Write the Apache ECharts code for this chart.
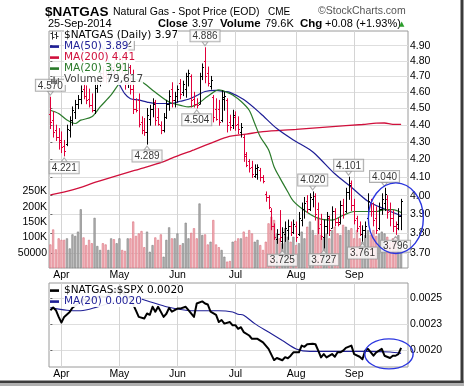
<!DOCTYPE html>
<html><head><meta charset="utf-8">
<script src="https://cdn.jsdelivr.net/npm/echarts@6/dist/echarts.min.js"></script>
<style>html,body{margin:0;padding:0;background:#fff}#c{width:464px;height:387px}</style>
</head><body><div id="c"></div>
<script>
// ---------------- DATA ----------------
const dates = [
'2014-03-26','2014-03-27','2014-03-28','2014-03-31',
'2014-04-01','2014-04-02','2014-04-03','2014-04-04','2014-04-07','2014-04-08','2014-04-09','2014-04-10','2014-04-11','2014-04-14','2014-04-15','2014-04-16','2014-04-17','2014-04-21','2014-04-22','2014-04-23','2014-04-24','2014-04-25','2014-04-28','2014-04-29','2014-04-30',
'2014-05-01','2014-05-02','2014-05-05','2014-05-06','2014-05-07','2014-05-08','2014-05-09','2014-05-12','2014-05-13','2014-05-14','2014-05-15','2014-05-16','2014-05-19','2014-05-20','2014-05-21','2014-05-22','2014-05-23','2014-05-27','2014-05-28','2014-05-29','2014-05-30',
'2014-06-02','2014-06-03','2014-06-04','2014-06-05','2014-06-06','2014-06-09','2014-06-10','2014-06-11','2014-06-12','2014-06-13','2014-06-16','2014-06-17','2014-06-18','2014-06-19','2014-06-20','2014-06-23','2014-06-24','2014-06-25','2014-06-26','2014-06-27','2014-06-30',
'2014-07-01','2014-07-02','2014-07-03','2014-07-07','2014-07-08','2014-07-09','2014-07-10','2014-07-11','2014-07-14','2014-07-15','2014-07-16','2014-07-17','2014-07-18','2014-07-21','2014-07-22','2014-07-23','2014-07-24','2014-07-25','2014-07-28','2014-07-29','2014-07-30','2014-07-31',
'2014-08-01','2014-08-04','2014-08-05','2014-08-06','2014-08-07','2014-08-08','2014-08-11','2014-08-12','2014-08-13','2014-08-14','2014-08-15','2014-08-18','2014-08-19','2014-08-20','2014-08-21','2014-08-22','2014-08-25','2014-08-26','2014-08-27','2014-08-28','2014-08-29',
'2014-09-02','2014-09-03','2014-09-04','2014-09-05','2014-09-08','2014-09-09','2014-09-10','2014-09-11','2014-09-12','2014-09-15','2014-09-16','2014-09-17','2014-09-18','2014-09-19','2014-09-22','2014-09-23','2014-09-24','2014-09-25'
];
const opens = [
4.47,4.43,4.37,4.33,4.31,4.28,4.29,4.37,4.43,4.48,
4.53,4.56,4.62,4.58,4.56,4.52,4.49,4.63,4.68,4.72,
4.70,4.69,4.73,4.76,4.74,4.77,4.80,4.74,4.66,4.76,
4.62,4.50,4.55,4.42,4.37,4.36,4.44,4.50,4.54,4.45,
4.40,4.37,4.45,4.53,4.62,4.55,4.58,4.66,4.60,4.62,
4.70,4.70,4.56,4.53,4.53,4.70,4.80,4.72,4.64,4.57,
4.50,4.50,4.43,4.56,4.55,4.42,4.40,4.45,4.41,4.36,
4.33,4.23,4.19,4.16,4.11,4.12,4.14,4.10,4.01,3.99,
3.92,3.84,3.77,3.80,3.76,3.80,3.82,3.84,3.81,3.84,
3.80,3.87,3.93,3.97,3.93,3.98,4.00,3.93,3.85,3.78,
3.84,3.88,3.83,3.92,3.86,3.86,3.95,3.92,4.02,4.07,
3.95,3.88,3.84,3.80,3.82,3.88,3.96,3.92,3.88,3.83,
3.93,3.96,3.98,3.92,3.88,3.84,3.85,3.89];
const highs = [
4.570,4.48,4.40,4.38,4.36,4.31,4.40,4.45,4.51,4.55,
4.58,4.64,4.66,4.64,4.62,4.59,4.66,4.70,4.74,4.76,
4.73,4.75,4.78,4.80,4.79,4.832,4.82,4.80,4.78,4.77,
4.74,4.56,4.59,4.45,4.44,4.50,4.52,4.56,4.55,4.50,
4.42,4.47,4.55,4.61,4.66,4.60,4.64,4.68,4.67,4.72,
4.74,4.71,4.60,4.56,4.72,4.78,4.886,4.76,4.70,4.58,
4.56,4.55,4.61,4.60,4.56,4.46,4.49,4.48,4.45,4.41,
4.34,4.24,4.20,4.19,4.17,4.17,4.15,4.11,4.02,4.00,
3.93,3.85,3.82,3.92,3.83,3.86,3.87,3.86,3.87,3.86,
3.91,3.96,3.99,4.00,4.01,4.020,4.01,3.96,3.90,3.87,
3.91,3.89,3.94,3.93,3.88,3.97,3.98,4.04,4.101,4.08,
3.98,3.89,3.86,3.84,3.86,4.01,3.98,3.96,3.94,3.96,
4.01,4.040,4.00,3.96,3.92,3.86,3.93,3.98];
const lows = [
4.38,4.33,4.31,4.26,4.24,4.221,4.28,4.33,4.40,4.44,
4.50,4.53,4.56,4.53,4.51,4.48,4.47,4.60,4.64,4.67,
4.66,4.66,4.69,4.71,4.70,4.73,4.72,4.62,4.63,4.59,
4.47,4.48,4.39,4.35,4.34,4.289,4.40,4.45,4.40,4.40,
4.35,4.36,4.44,4.49,4.51,4.51,4.54,4.56,4.58,4.57,
4.64,4.51,4.51,4.504,4.53,4.68,4.66,4.64,4.62,4.42,
4.43,4.40,4.42,4.49,4.36,4.37,4.38,4.37,4.35,4.33,
4.19,4.16,4.13,4.10,4.10,4.09,4.08,4.07,3.97,3.93,
3.82,3.77,3.75,3.76,3.725,3.76,3.77,3.79,3.80,3.76,
3.79,3.84,3.88,3.91,3.92,3.94,3.87,3.80,3.77,3.727,
3.80,3.79,3.83,3.84,3.84,3.85,3.88,3.91,3.98,3.92,
3.85,3.81,3.79,3.761,3.78,3.87,3.89,3.84,3.80,3.82,
3.90,3.92,3.88,3.84,3.81,3.796,3.82,3.82];
const closes = [
4.42,4.36,4.33,4.30,4.27,4.25,4.38,4.43,4.49,4.53,
4.56,4.61,4.58,4.55,4.52,4.49,4.63,4.68,4.72,4.70,
4.69,4.73,4.76,4.74,4.77,4.80,4.74,4.66,4.76,4.62,
4.50,4.49,4.41,4.37,4.36,4.46,4.50,4.53,4.43,4.41,
4.37,4.45,4.53,4.58,4.55,4.58,4.62,4.59,4.65,4.70,
4.72,4.55,4.53,4.52,4.70,4.76,4.70,4.66,4.68,4.45,
4.44,4.42,4.57,4.58,4.40,4.39,4.46,4.40,4.38,4.39,
4.22,4.17,4.15,4.12,4.15,4.16,4.10,4.08,3.99,3.94,
3.84,3.78,3.80,3.78,3.81,3.83,3.84,3.81,3.85,3.78,
3.88,3.93,3.96,3.93,3.99,4.00,3.90,3.83,3.79,3.84,
3.89,3.82,3.92,3.86,3.85,3.95,3.90,4.02,4.06,3.95,
3.87,3.83,3.80,3.82,3.84,3.97,3.92,3.87,3.82,3.93,
3.98,4.01,3.91,3.88,3.84,3.83,3.89,3.97];
const volumes = [
77000,126000,61000,97000,92000,92000,97000,64000,110000,105000,
119000,192000,100000,75000,92000,81000,164000,72000,59000,81000,
77000,59000,97000,94000,81000,97000,59000,56000,97000,97000,
152000,105000,113000,121000,68000,119000,53000,75000,100000,92000,
110000,37000,92000,133000,97000,97000,113000,75000,81000,148000,
97000,115000,130000,97000,211000,108000,110000,77000,86000,157000,
77000,68000,59000,37000,21000,23000,86000,89000,97000,97000,
119000,102000,124000,113000,86000,92000,75000,59000,86000,146000,
168000,157000,113000,97000,81000,130000,102000,86000,102000,75000,
81000,119000,97000,135000,152000,124000,108000,168000,108000,97000,
113000,97000,124000,135000,113000,108000,141000,135000,124000,130000,
97000,124000,97000,86000,108000,124000,108000,124000,105000,113000,
119000,113000,102000,86000,97000,102000,108000,79617];

// moving averages: [trading-day index, value]
const ma50Pts = [[0,5.40],[8,5.22],[14,5.05],[18,4.92],[21,4.80],[23,4.72],[25,4.65],[27,4.59],[29,4.56],[32,4.553],[35,4.54],[38,4.531],[44,4.531],[47,4.545],[50,4.557],[53,4.58],[56,4.605],[60,4.612],[63,4.605],[65,4.60],[70,4.555],[76,4.472],[82,4.38],[88,4.313],[94,4.256],[97,4.215],[103,4.12],[109,4.046],[115,3.97],[121,3.928],[127,3.893]];
const ma200Pts = [[0,4.004],[8,4.031],[17,4.076],[29,4.132],[32,4.145],[41,4.188],[44,4.208],[52,4.256],[56,4.281],[64,4.330],[71,4.347],[77,4.362],[89,4.375],[101,4.390],[113,4.404],[118,4.412],[121,4.413],[124,4.405],[127,4.405]];
const ma20Pts = [[0,4.49],[3,4.47],[6,4.431],[9,4.41],[11,4.43],[15,4.45],[18,4.51],[22,4.584],[25,4.656],[27,4.68],[29,4.687],[32,4.675],[34,4.656],[38,4.60],[43,4.54],[48,4.516],[50,4.51],[53,4.525],[57,4.575],[61,4.615],[64,4.60],[66,4.584],[69,4.545],[72,4.49],[74,4.41],[76,4.332],[79,4.256],[81,4.16],[83,4.10],[86,4.02],[88,3.97],[92,3.92],[96,3.885],[99,3.872],[102,3.87],[106,3.895],[110,3.915],[114,3.915],[118,3.915],[121,3.925],[124,3.925],[127,3.91]];
const ratioPts = [[0,0.002385],[1,0.00241],[2,0.002385],[3,0.00232],[4,0.002265],[5,0.00232],[7,0.002368],[8,0.002408],[10,0.00245],[12,0.00249],[14,0.00247],[16,0.0025],[18,0.00252],[20,0.00251],[22,0.00255],[24,0.00258],[26,0.00256],[28,0.00251],[29,0.0025],[31,0.00238],[32,0.00232],[34,0.002304],[35,0.002353],[36,0.00234],[37,0.002418],[38,0.00237],[39,0.002418],[41,0.00232],[42,0.00235],[43,0.002408],[44,0.00237],[46,0.0024],[47,0.0024],[49,0.002418],[50,0.002385],[52,0.00232],[53,0.00245],[55,0.00247],[56,0.00245],[57,0.00244],[58,0.00237],[60,0.00234],[61,0.00227],[62,0.00229],[63,0.002255],[65,0.00227],[66,0.002238],[67,0.00224],[68,0.002205],[69,0.00222],[70,0.002173],[72,0.00214],[73,0.002108],[75,0.002108],[77,0.002074],[79,0.00201],[81,0.001902],[82,0.001922],[84,0.0019],[85,0.00193],[86,0.00192],[87,0.001944],[88,0.001977],[90,0.001977],[91,0.002042],[92,0.00203],[93,0.002055],[95,0.00206],[96,0.002055],[97,0.001993],[98,0.001928],[99,0.00196],[100,0.001928],[102,0.00196],[103,0.001934],[104,0.001977],[105,0.001977],[106,0.001993],[107,0.00202],[109,0.002042],[110,0.00196],[112,0.001934],[113,0.00191],[114,0.001993],[115,0.00201],[117,0.001944],[118,0.001977],[119,0.001993],[120,0.00201],[121,0.001944],[123,0.001922],[124,0.001944],[125,0.001944],[126,0.00196],[127,0.00202]];
const ratioMaPts = [[0,0.00241],[6,0.002385],[11,0.00238],[17,0.002417],[22,0.00246],[26,0.0025],[29,0.002516],[36,0.002467],[42,0.002418],[49,0.002385],[54,0.00238],[61,0.00238],[66,0.002368],[68,0.002346],[70,0.002336],[74,0.002255],[79,0.002173],[84,0.002091],[89,0.00201],[94,0.001986],[101,0.001986],[108,0.001986],[115,0.001986],[123,0.00198],[127,0.001967]];

const peakIdx = [0,25,56,95,108,121];
const troughIdx = [5,35,53,84,99,113,125];

const priceTicks = [3.7,3.8,3.9,4.0,4.1,4.2,4.3,4.4,4.5,4.6,4.7,4.8,4.9];
const volumeTicks = [50000,100000,150000,200000,250000];
const volumeTickLabels = ['50000','100K','150K','200K','250K'];
const ratioTicks = [0.0020,0.00225,0.0025];
const ratioTickLabels = ['0.0020','0.0023','0.0025'];
const monthNames = ['Jan','Feb','Mar','Apr','May','Jun','Jul','Aug','Sep','Oct','Nov','Dec'];

// ---------------- BUILD ----------------
const ln = Math.log;
const UP = '#000000', DOWN = '#e0003a';
const up = closes.map((c,i)=> i===0 ? c>=opens[0] : c>=closes[i-1]);
const monthTickIdx = [], monthTickLabels = [];
dates.forEach((d,i)=>{ if(i>0 && d.slice(5,7)!==dates[i-1].slice(5,7)){ monthTickIdx.push(i); monthTickLabels.push(monthNames[+d.slice(5,7)-1]); } });

const AX = {fontFamily:'Liberation Sans', fontSize:10.5, color:'#000'};
const LEG = {fontFamily:'DejaVu Sans', fontSize:10.5, lineHeight:11, backgroundColor:'rgba(255,255,255,0.92)'};
function svgIcon(inner){
  return 'image://data:image/svg+xml;charset=utf-8,' + encodeURIComponent("<svg xmlns='http://www.w3.org/2000/svg' width='12' height='9' viewBox='0 0 12 9'>"+inner+"</svg>");
}
const icOHLC = svgIcon("<path d='M5.5 0.5V8.5M3.5 2.5H5.5M5.5 6.5H7.5M9.5 1V8M7.5 3.5H9.5M9.5 5.5H11.5' stroke='#333' stroke-width='1' fill='none'/>");
const icLine = c => svgIcon("<rect x='3' y='3.3' width='9' height='2.6' fill='"+c+"'/>");
const icVol = svgIcon("<rect x='4' y='4' width='1.6' height='5' fill='#666'/><rect x='6.3' y='1.5' width='1.6' height='7.5' fill='#666'/><rect x='8.6' y='5' width='1.6' height='4' fill='#666'/><rect x='10.9' y='3' width='1.1' height='6' fill='#666'/>");

const xAxisBase = (gi) => ({
  type:'value', gridIndex:gi, min:-0.5, max:dates.length+1.5,
  axisLine:{show:false},
  axisTick:{show:false, customValues:monthTickIdx},
  axisLabel:Object.assign({customValues:monthTickIdx, margin:2,
    formatter:v=>monthTickLabels[monthTickIdx.indexOf(Math.round(v))]||''}, AX),
  splitLine:{show:true, lineStyle:{color:'#d4d4d4', width:1}}
});

const labelBox = {fontFamily:'Liberation Sans', fontSize:10, color:'#000', backgroundColor:'#fff',
  borderColor:'#9a9a9a', borderWidth:1, padding:[1,2,0,2], lineHeight:10};

const MA50C='#1f1f96', MA200C='#d0103c', MA20C='#2a7a2a', RMAC='#1f1f96';

const option = {
  animation:false,
  backgroundColor:'#fff',
  grid:[
    {left:49, top:31, width:359, height:237, show:true, borderColor:'#9a9a9a', borderWidth:1, backgroundColor:'#fff', outerBoundsMode:'none'},
    {left:49, top:283, width:359, height:84, show:true, borderColor:'#9a9a9a', borderWidth:1, backgroundColor:'#fff', outerBoundsMode:'none'}
  ],
  xAxis:[xAxisBase(0), xAxisBase(1)],
  yAxis:[
    {type:'value', gridIndex:0, position:'right', min:ln(3.627), max:ln(4.998),
     axisLine:{show:false},
     axisTick:{show:true, length:2, inside:false, customValues:priceTicks.map(ln), lineStyle:{color:'#666'}},
     axisLabel:Object.assign({customValues:priceTicks.map(ln), margin:2, formatter:v=>Math.exp(v).toFixed(2)}, AX),
     splitLine:{show:true, lineStyle:{color:'#dedede'}}},
    {type:'value', gridIndex:0, position:'left', min:0, max:775000,
     axisLine:{show:false},
     axisTick:{show:false, customValues:volumeTicks},
     axisLabel:Object.assign({customValues:volumeTicks, margin:2,
       formatter:v=>volumeTickLabels[volumeTicks.indexOf(Math.round(v))]||''}, AX),
     splitLine:{show:false}},
    {type:'value', gridIndex:1, position:'right', min:0.001835, max:0.002648,
     axisLine:{show:false},
     axisTick:{show:true, length:2, customValues:ratioTicks, lineStyle:{color:'#666'}},
     axisLabel:Object.assign({customValues:ratioTicks, margin:2,
       formatter:v=>{let k=0,b=1;ratioTicks.forEach((t,j)=>{const d=Math.abs(t-v);if(d<b){b=d;k=j;}});return ratioTickLabels[k];}}, AX),
     splitLine:{show:true, lineStyle:{color:'#dedede'}}}
  ],
  legend:[
    {orient:'vertical', left:47, top:30, padding:0, itemGap:0, itemWidth:12, itemHeight:9, selectedMode:false, z:30, zlevel:1,
     textStyle:LEG,
     data:[
       {name:'$NATGAS (Daily) 3.97', icon:icOHLC, textStyle:{color:'#000'}},
       {name:'MA(50) 3.89', icon:icLine(MA50C), textStyle:{color:MA50C}},
       {name:'MA(200) 4.41', icon:icLine(MA200C), textStyle:{color:MA200C}},
       {name:'MA(20) 3.91', icon:icLine(MA20C), textStyle:{color:MA20C}},
       {name:'Volume 79,617', icon:icVol, textStyle:{color:'#444'}}
     ]},
    {orient:'vertical', left:47, top:285, padding:0, itemGap:0, itemWidth:12, itemHeight:9, selectedMode:false, z:30, zlevel:1,
     textStyle:LEG,
     data:[
       {name:'$NATGAS:$SPX 0.0020', icon:icLine('#000'), textStyle:{color:'#000'}},
       {name:'MA(20) 0.0020', icon:icLine(RMAC), textStyle:{color:RMAC}}
     ]}
  ],
  series:[
    {name:'Volume 79,617', type:'bar', xAxisIndex:0, yAxisIndex:1, barWidth:2.1, silent:true, z:1,
     data:volumes.map((v,i)=>({value:[i,v], itemStyle: up[i]
       ? {color:'#b5b5b5', borderColor:'#7c7c7c', borderWidth:0.6}
       : {color:'#f4babf', borderColor:'#d86b7a', borderWidth:0.6}}))},
    {name:'MA(200) 4.41', type:'line', xAxisIndex:0, yAxisIndex:0, symbol:'none', smooth:0.3, silent:true, z:2,
     lineStyle:{color:MA200C, width:1.3}, data:ma200Pts.map(p=>[p[0], ln(p[1])])},
    {name:'MA(50) 3.89', type:'line', xAxisIndex:0, yAxisIndex:0, symbol:'none', smooth:0.3, silent:true, z:2,
     lineStyle:{color:MA50C, width:1.2}, data:ma50Pts.map(p=>[p[0], ln(p[1])])},
    {name:'MA(20) 3.91', type:'line', xAxisIndex:0, yAxisIndex:0, symbol:'none', smooth:0.3, silent:true, z:2,
     lineStyle:{color:MA20C, width:1.2}, data:ma20Pts.map(p=>[p[0], ln(p[1])])},
    {name:'$NATGAS (Daily) 3.97', type:'custom', xAxisIndex:0, yAxisIndex:0, silent:true, z:3,
     encode:{x:0, y:[1,2,3,4]},
     data:dates.map((d,i)=>[i, ln(opens[i]), ln(highs[i]), ln(lows[i]), ln(closes[i]), up[i]?1:0]),
     renderItem:(params, api)=>{
       const i = api.value(0);
       const o = api.coord([i, api.value(1)]), h = api.coord([i, api.value(2)]),
             l = api.coord([i, api.value(3)]), c = api.coord([i, api.value(4)]);
       const col = api.value(5) ? UP : DOWN;
       const x = Math.round(o[0]) + 0.5;
       const st = {stroke:col, lineWidth:1};
       return {type:'group', children:[
         {type:'line', shape:{x1:x, y1:h[1]-0.5, x2:x, y2:l[1]+0.5}, style:st},
         {type:'line', shape:{x1:x-1.5, y1:Math.round(o[1])+0.5, x2:x, y2:Math.round(o[1])+0.5}, style:st},
         {type:'line', shape:{x1:x, y1:Math.round(c[1])+0.5, x2:x+1.5, y2:Math.round(c[1])+0.5}, style:st}
       ]};
     }},
    {name:'peaks', type:'scatter', xAxisIndex:0, yAxisIndex:0, silent:true, z:4,
     data:peakIdx.map(i=>[i, ln(highs[i])]),
     symbol:'triangle', symbolRotate:180, symbolSize:[6,4], symbolOffset:[0,-4],
     itemStyle:{color:'#fff', borderColor:'#9a9a9a', borderWidth:1},
     label:Object.assign({show:true, position:'top', distance:0, formatter:p=>highs[p.data[0]].toFixed(3)}, labelBox)},
    {name:'troughs', type:'scatter', xAxisIndex:0, yAxisIndex:0, silent:true, z:4,
     data:troughIdx.map(i=>[i, ln(lows[i])]),
     symbol:'triangle', symbolSize:[6,4], symbolOffset:[0,4],
     itemStyle:{color:'#fff', borderColor:'#9a9a9a', borderWidth:1},
     label:Object.assign({show:true, position:'bottom', distance:0, formatter:p=>lows[p.data[0]].toFixed(3)}, labelBox)},
    {name:'MA(20) 0.0020', type:'line', xAxisIndex:1, yAxisIndex:2, symbol:'none', smooth:0.3, silent:true, z:2,
     lineStyle:{color:RMAC, width:1.1}, data:ratioMaPts},
    {name:'$NATGAS:$SPX 0.0020', type:'line', xAxisIndex:1, yAxisIndex:2, symbol:'none', silent:true, z:3,
     lineStyle:{color:'#000', width:2, join:'round'}, data:ratioPts}
  ]
};

const chart = echarts.init(document.getElementById('c'), null, {renderer:'canvas'});
chart.setOption(option);

// annotations (hand-drawn ellipses) anchored to data positions
const e1 = chart.convertToPixel({xAxisIndex:0, yAxisIndex:0}, [125.1, ln(3.88)]);
const e2 = chart.convertToPixel({xAxisIndex:1, yAxisIndex:2}, [122.6, 0.001962]);
const T = (text, x, y, size, extra) => Object.assign({type:'text', x:x, y:y, silent:true, z:50,
  style:Object.assign({text:text, fontFamily:'Liberation Sans', fontSize:size, fill:'#000', verticalAlign:'middle'}, extra||{})});
chart.setOption({graphic:{elements:[
  T('$NATGAS', 45, 12, 13.5, {fontWeight:'bold'}),
  T('Natural Gas - Spot Price (EOD)', 113, 12, 10.5),
  T('CME', 268, 12, 10),
  T('\u00A9StockCharts.com', 318, 11.5, 10.5, {fill:'#555'}),
  T('25-Sep-2014', 48, 24, 11),
  T('Close', 158, 24, 11, {fontWeight:'bold'}),
  T('3.97', 192, 24, 11),
  T('Volume', 220, 24, 11.5, {fontWeight:'bold'}),
  T('79.6K', 265, 24, 11),
  T('Chg', 300, 24, 11.5, {fontWeight:'bold'}),
  T('+0.08 (+1.93%)', 325, 24, 11),
  T('\u25B2', 399, 24, 7, {fill:'#2a9d2a', fontFamily:'DejaVu Sans'}),
  {type:'ellipse', z:60, zlevel:2, silent:true, shape:{cx:e1[0], cy:e1[1], rx:27.5, ry:35.3}, style:{fill:'none', stroke:'#2b36e0', lineWidth:1.4}},
  {type:'ellipse', z:60, zlevel:2, silent:true, shape:{cx:e2[0], cy:e2[1], rx:24.2, ry:15}, style:{fill:'none', stroke:'#2b36e0', lineWidth:1.4}},
  {type:'rect', z:70, zlevel:2, silent:true, shape:{x:460.5, y:0, width:3, height:383}, style:{fill:'#3a3a3a'}},
  {type:'rect', z:70, zlevel:2, silent:true, shape:{x:0, y:380.5, width:463.5, height:2.5}, style:{fill:'#3c3c3c'}},
  {type:'rect', z:70, zlevel:2, silent:true, shape:{x:0, y:383, width:464, height:3}, style:{fill:'#b0b0b0'}}
]}});
</script>
</body></html>
